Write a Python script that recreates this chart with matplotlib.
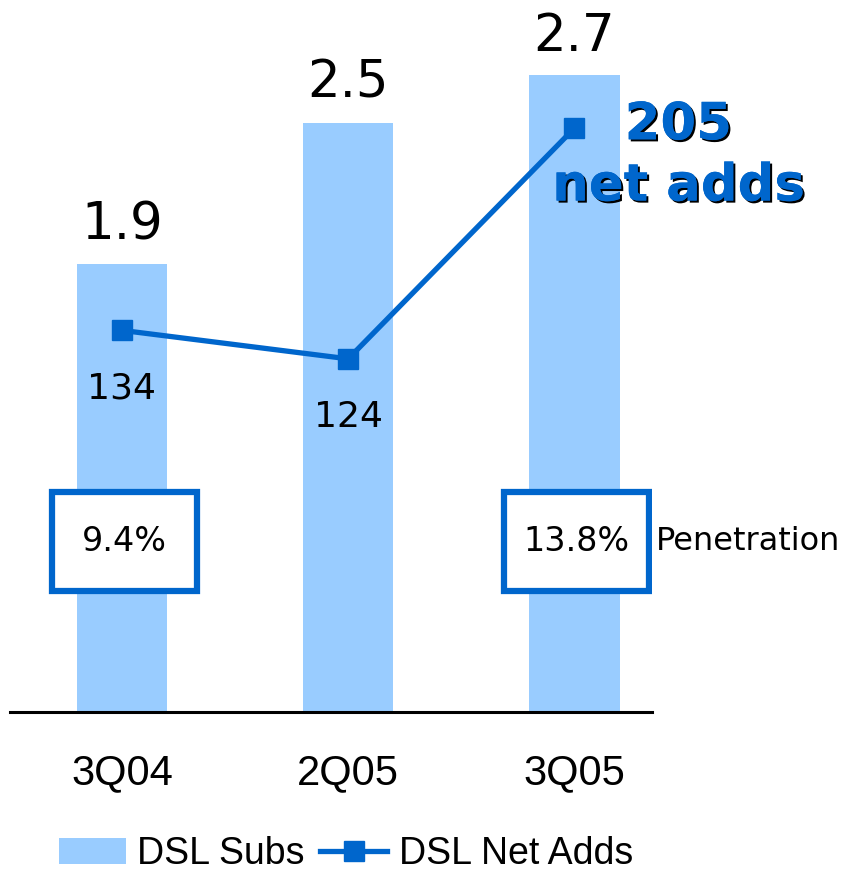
import matplotlib.pyplot as plt
from matplotlib.patches import Rectangle, Patch
from matplotlib.lines import Line2D
import matplotlib.patheffects as pe

quarters = ['3Q04', '2Q05', '3Q05']
dsl_subs = [1.9, 2.5, 2.7]          # millions
net_adds = [134, 124, 205]          # thousands
penetration = [9.4, None, 13.8]     # percent

bar_color = '#99CCFF'
blue = '#0066CC'

fig = plt.figure(figsize=(8.43, 8.71), dpi=100)
ax = fig.add_axes([10 / 843, (871 - 712) / 871, 642 / 843, 712 / 871])

x = list(range(len(quarters)))
bars = ax.bar(x, dsl_subs, width=0.40, color=bar_color, zorder=1)
ax.set_xlim(-0.495, 2.343)
ax.set_ylim(0, 3.02)

for spine in ['top', 'left', 'right']:
    ax.spines[spine].set_visible(False)
ax.spines['bottom'].set_linewidth(2.2)
ax.set_yticks([])
ax.set_xticks(x)
ax.set_xticklabels(quarters, fontsize=30, family='Liberation Sans')
ax.tick_params(axis='x', length=0, pad=30)

# bar values above the bars
for xi, v in zip(x, dsl_subs):
    ax.annotate(f'{v:.1f}', (xi, v), xytext=(0, 10), textcoords='offset points',
                ha='center', va='bottom', fontsize=37, family='DejaVu Sans')

# penetration boxes
for xi, p in zip(x, penetration):
    if p is None:
        continue
    ax.add_patch(Rectangle((xi + 0.01 - 0.32, 0.514), 0.64, 0.42, fill=True,
                           facecolor='white', edgecolor=blue, linewidth=4.5, zorder=2))
    ax.text(xi + 0.01, 0.724, f'{p:.1f}%', ha='center', va='center',
            fontsize=24, family='DejaVu Sans', zorder=3)
ax.text(2.36, 0.724, 'Penetration', ha='left', va='center', fontsize=23,
        family='DejaVu Sans', clip_on=False)

# net adds line on its own scale
ax2 = ax.twinx()
ax2.set_ylim(0, 250)
ax2.axis('off')
ax2.plot(x, net_adds, color=blue, linewidth=3.8, marker='s', markersize=14, zorder=4)
for xi, v in zip(x[:2], net_adds[:2]):
    ax2.annotate(f'{v}', (xi, v), xytext=(0, -42), textcoords='offset points',
                 ha='center', va='center', fontsize=26, family='DejaVu Sans')

shadow = [pe.withSimplePatchShadow(offset=(1.5, -1.5), shadow_rgbFace='black', alpha=1.0),
          pe.Normal()]
ax2.text(2.46, 206, f'{net_adds[2]}', ha='center', va='center', fontsize=37,
         fontweight='bold', color=blue, family='DejaVu Sans', path_effects=shadow,
         clip_on=False)
ax2.text(2.46, 184.5, 'net adds', ha='center', va='center', fontsize=37,
         fontweight='bold', color=blue, family='DejaVu Sans', path_effects=shadow,
         clip_on=False)

handles = [Patch(facecolor=bar_color, edgecolor='none'),
           Line2D([], [], color=blue, linewidth=3.8, marker='s', markersize=14)]
fig.legend(handles, ['DSL Subs', 'DSL Net Adds'], loc='lower center',
           bbox_to_anchor=(0.41, -0.04), ncol=2, frameon=False,
           prop={'family': 'Liberation Sans', 'size': 27},
           handlelength=1.8, handletextpad=0.3, columnspacing=0.4)

fig.savefig('out.png', dpi=100)
